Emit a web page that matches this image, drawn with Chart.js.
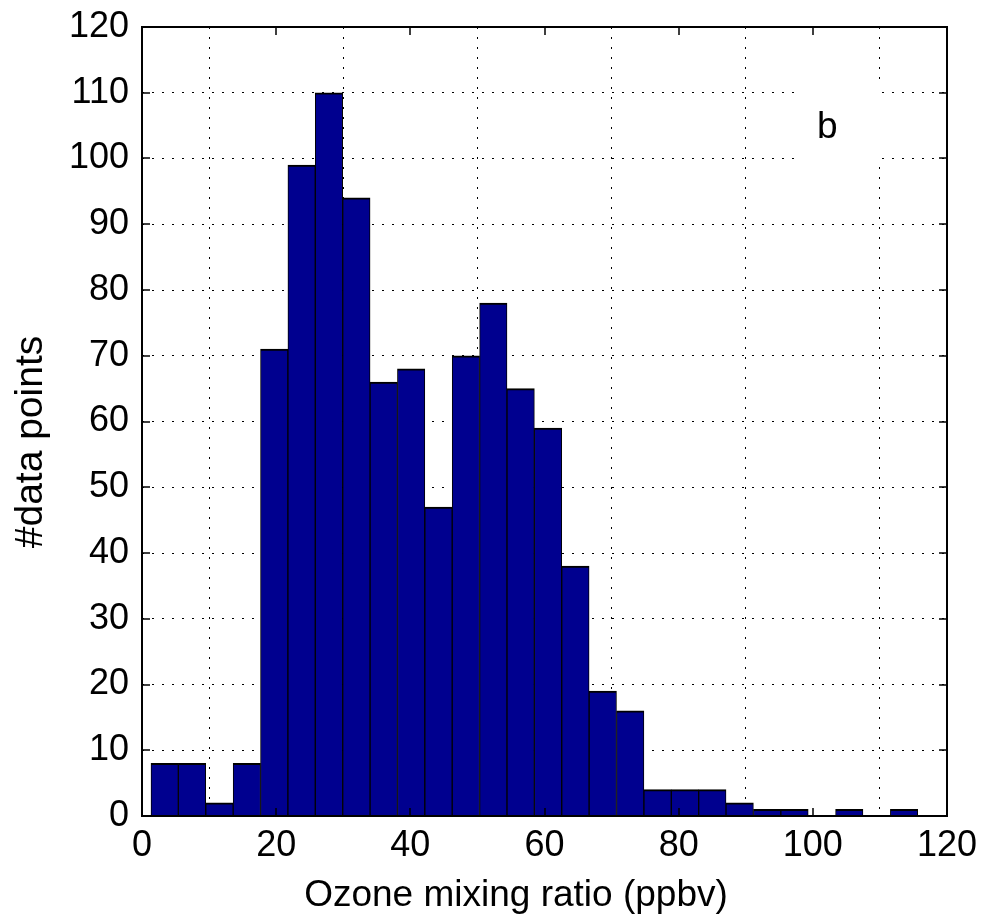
<!DOCTYPE html>
<html>
<head>
<meta charset="utf-8">
<script src="https://cdn.jsdelivr.net/npm/chart.js@4"></script>
<style>
  html, body { margin: 0; padding: 0; background: #fff; }
  #wrap { width: 1001px; height: 915px; }
</style>
</head>
<body>
<div id="wrap"><canvas id="myChart" width="1001" height="915"></canvas></div>
<script>
// histogram bins (ppbv, bin centres) and counts
var binCenters = [3.38, 7.46, 11.55, 15.63, 19.71, 23.79, 27.87, 31.96, 36.04, 40.12,
  44.20, 48.28, 52.37, 56.45, 60.53, 64.61, 68.69, 72.78, 76.86, 80.94,
  85.02, 89.10, 93.19, 97.27, 101.35, 105.43, 109.51, 113.60];
var counts = [8, 8, 2, 8, 71, 99, 110, 94, 66, 68,
  47, 70, 78, 65, 59, 38, 19, 16, 4, 4,
  4, 2, 1, 1, 0, 1, 0, 1];
var xTicks = [0, 20, 40, 60, 80, 100, 120];
var yTicks = [0, 10, 20, 30, 40, 50, 60, 70, 80, 90, 100, 110, 120];
var xTitle = 'Ozone mixing ratio (ppbv)';
var yTitle = '#data points';
var panelLabel = 'b';

var FONT = 'Liberation Sans, Arial, sans-serif';

var frame = {
  id: 'frame',
  beforeDraw: function (chart) {
    var ctx = chart.ctx;
    ctx.save();
    ctx.fillStyle = '#fff';
    ctx.fillRect(0, 0, chart.width, chart.height);
    ctx.restore();
  },
  afterDatasetsDraw: function (chart) {
    var ctx = chart.ctx;
    var a = chart.chartArea;
    var x = chart.scales.x, y = chart.scales.y;
    ctx.save();
    // label box hides the grid behind it
    ctx.fillStyle = '#fff';
    ctx.fillRect(802, 86, 78, 80);
    ctx.fillStyle = '#000';
    ctx.font = '37px ' + FONT;
    ctx.textAlign = 'left';
    ctx.textBaseline = 'alphabetic';
    ctx.fillText(panelLabel, 817, 138);

    // axes box + inward ticks
    ctx.strokeStyle = '#000';
    ctx.lineWidth = 2;
    ctx.strokeRect(a.left, a.top, a.right - a.left, a.bottom - a.top);
    ctx.lineWidth = 1.5;
    ctx.beginPath();
    xTicks.forEach(function (v) {
      var px = Math.round(x.getPixelForValue(v));
      ctx.moveTo(px, a.bottom); ctx.lineTo(px, a.bottom - 8);
      ctx.moveTo(px, a.top); ctx.lineTo(px, a.top + 8);
    });
    yTicks.forEach(function (v) {
      var py = Math.round(y.getPixelForValue(v));
      ctx.moveTo(a.left, py); ctx.lineTo(a.left + 8, py);
      ctx.moveTo(a.right, py); ctx.lineTo(a.right - 8, py);
    });
    ctx.stroke();
    ctx.restore();
  },
  afterDraw: function (chart) {
    var ctx = chart.ctx;
    ctx.save();
    ctx.fillStyle = '#000';
    ctx.textAlign = 'center';
    ctx.textBaseline = 'alphabetic';
    ctx.font = '37px ' + FONT;
    ctx.fillText(xTitle, 516, 906);
    ctx.translate(42, 442);
    ctx.rotate(-Math.PI / 2);
    ctx.font = '39px ' + FONT;
    ctx.fillText(yTitle, 0, 0);
    ctx.restore();
  }
};

var points = binCenters.map(function (c, i) { return { x: c, y: counts[i] }; });

new Chart(document.getElementById('myChart'), {
  type: 'bar',
  data: {
    datasets: [{
      label: 'counts',
      data: points,
      backgroundColor: '#00008f',
      borderColor: '#000',
      borderWidth: { top: 2, left: 1, right: 1, bottom: 0 },
      borderSkipped: false,
      barPercentage: 1,
      categoryPercentage: 1
    }]
  },
  options: {
    responsive: false,
    animation: false,
    layout: { padding: { left: 0, top: 27, right: 54, bottom: 0 } },
    plugins: {
      legend: { display: false },
      tooltip: { enabled: false }
    },
    scales: {
      x: {
        type: 'linear',
        min: 0,
        max: 120,
        offset: false,
        afterBuildTicks: function (s) { s.ticks = xTicks.map(function (v) { return { value: v }; }); },
        afterFit: function (s) { s.height = 99; s.paddingLeft = 0; s.paddingRight = 0; },
        grid: { color: '#000', lineWidth: 1, drawTicks: false },
        border: { display: false, dash: [2, 8] },
        ticks: {
          color: '#000',
          font: { family: FONT, size: 36 },
          padding: 8,
          maxRotation: 0,
          autoSkip: false
        }
      },
      y: {
        min: 0,
        max: 120,
        afterBuildTicks: function (s) { s.ticks = yTicks.map(function (v) { return { value: v }; }); },
        afterFit: function (s) { s.width = 142; s.paddingTop = 0; s.paddingBottom = 0; },
        grid: { color: '#000', lineWidth: 1, drawTicks: false },
        border: { display: false, dash: [2, 8] },
        ticks: {
          color: '#000',
          font: { family: FONT, size: 36 },
          padding: 13,
          autoSkip: false
        }
      }
    }
  },
  plugins: [frame]
});
</script>
</body>
</html>
